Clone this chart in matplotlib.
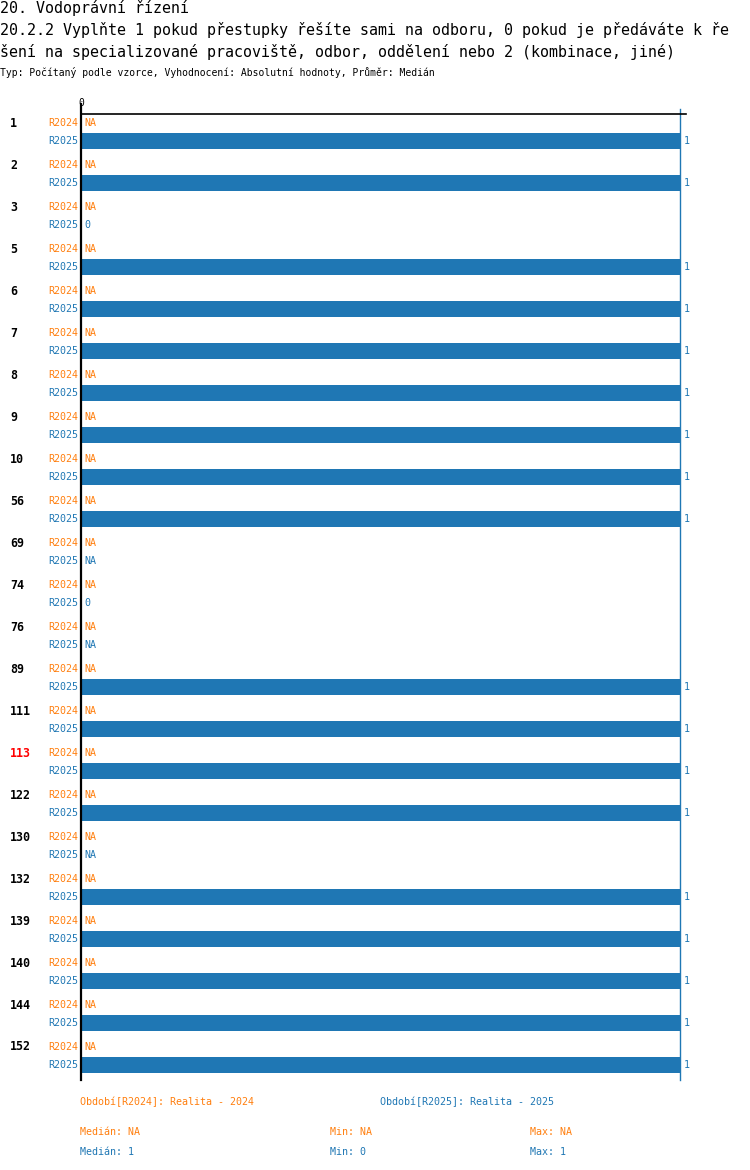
import numpy as np
import matplotlib.pyplot as plt
import matplotlib.transforms as mtransforms

# colours of the two periods
C24 = '#ff7f0e'
C25 = '#1f77b4'

groups = ['1', '2', '3', '5', '6', '7', '8', '9', '10', '56', '69', '74', '76',
          '89', '111', '113', '122', '130', '132', '139', '140', '144', '152']
r2024 = [None] * len(groups)  # all NA
r2025 = [1, 1, 0, 1, 1, 1, 1, 1, 1, 1, None, 0, None,
         1, 1, 1, 1, None, 1, 1, 1, 1, 1]
highlight = '113'

title1 = '20. Vodoprávní řízení'
title2 = '20.2.2 Vyplňte 1 pokud přestupky řešíte sami na odboru, 0 pokud je předáváte k ře'
title3 = 'šení na specializované pracoviště, odbor, oddělení nebo 2 (kombinace, jiné)'
subtitle = 'Typ: Počítaný podle vzorce, Vyhodnocení: Absolutní hodnoty, Průměr: Medián'

plt.rcParams['font.family'] = ['DejaVu Sans Mono', 'DejaVu Sans']

W, H = 750, 1170
fig = plt.figure(figsize=(W / 100, H / 100), dpi=100)

# axes box in pixels: x from 81 to 680, y from 114 to 1080
left, right, top, bottom = 81, 680, 114, 1080
ax = fig.add_axes([left / W, 1 - bottom / H, (right - left) / W, (bottom - top) / H])

step = 42.0            # pixels per group
off = 18 / step        # offset of R2025 row
bh = 16 / step         # bar height
n = len(groups)
ax.set_xlim(0, 1)
ax.set_ylim((bottom - 123) / step, -(123 - top) / step)

pos = np.arange(n)
vals25 = np.array([np.nan if v is None else v for v in r2025], dtype=float)
ax.barh(pos + off, np.nan_to_num(vals25), height=bh, left=0, color=C25, linewidth=0)

for s in ax.spines.values():
    s.set_visible(False)
ax.set_xticks([])
ax.set_yticks([])

# axis lines
ax.axvline(0, ymin=0, ymax=1 + 10 / (bottom - top), color='black', lw=1.6, clip_on=False)
ax.axvline(1, ymin=0, ymax=1 + 5 / (bottom - top), color=C25, lw=1, clip_on=False)
ax.plot([0, 1 + 6 / (right - left)], [1, 1], transform=ax.transAxes,
        color='black', lw=1.2, clip_on=False)
ax.annotate('0', xy=(0, 1), xycoords=('data', 'axes fraction'), xytext=(0, 6),
            textcoords='offset pixels', ha='center', va='bottom', fontsize=7)

lab_tr = mtransforms.blended_transform_factory(fig.transFigure, ax.transData)
for i, g in enumerate(groups):
    ax.text(10 / W, i, g, transform=lab_tr, ha='left', va='center', fontsize=8.4,
            fontweight='bold', color='red' if g == highlight else 'black')
    for k, (name, col, v) in enumerate([('R2024', C24, r2024[i]), ('R2025', C25, r2025[i])]):
        y = i + k * off
        ax.annotate(name, xy=(0, y), xytext=(-3, 0), textcoords='offset pixels',
                    ha='right', va='center', fontsize=7.2, color=col)
        if v is None:
            txt, x = 'NA', 0
        else:
            txt, x = str(v), v
        ax.annotate(txt, xy=(x, y), xytext=(3 if x == 0 else 4, 0), textcoords='offset pixels',
                    ha='left', va='center', fontsize=7.2, color=col)

# titles
fig.text(0, 1 - 8 / H, title1, fontsize=10.8, va='center', ha='left')
fig.text(0, 1 - 30 / H, title2, fontsize=10.8, va='center', ha='left')
fig.text(0, 1 - 52 / H, title3, fontsize=10.8, va='center', ha='left')
fig.text(0, 1 - 73 / H, subtitle, fontsize=7, va='center', ha='left')

# legend and stats
fig.text(80 / W, 1 - 1102 / H, 'Období[R2024]: Realita - 2024', color=C24, fontsize=7.2, va='center')
fig.text(380 / W, 1 - 1102 / H, 'Období[R2025]: Realita - 2025', color=C25, fontsize=7.2, va='center')

v25 = vals25[~np.isnan(vals25)]
stats = [
    (C24, 'NA', 'NA', 'NA'),
    (C25, '%g' % np.median(v25), '%g' % v25.min(), '%g' % v25.max()),
]
for j, (col, med, mn, mx) in enumerate(stats):
    yy = 1 - (1132 + 20 * j) / H
    fig.text(80 / W, yy, 'Medián: ' + med, color=col, fontsize=7.2, va='center')
    fig.text(330 / W, yy, 'Min: ' + mn, color=col, fontsize=7.2, va='center')
    fig.text(530 / W, yy, 'Max: ' + mx, color=col, fontsize=7.2, va='center')

fig.savefig('out.png', dpi=100)
